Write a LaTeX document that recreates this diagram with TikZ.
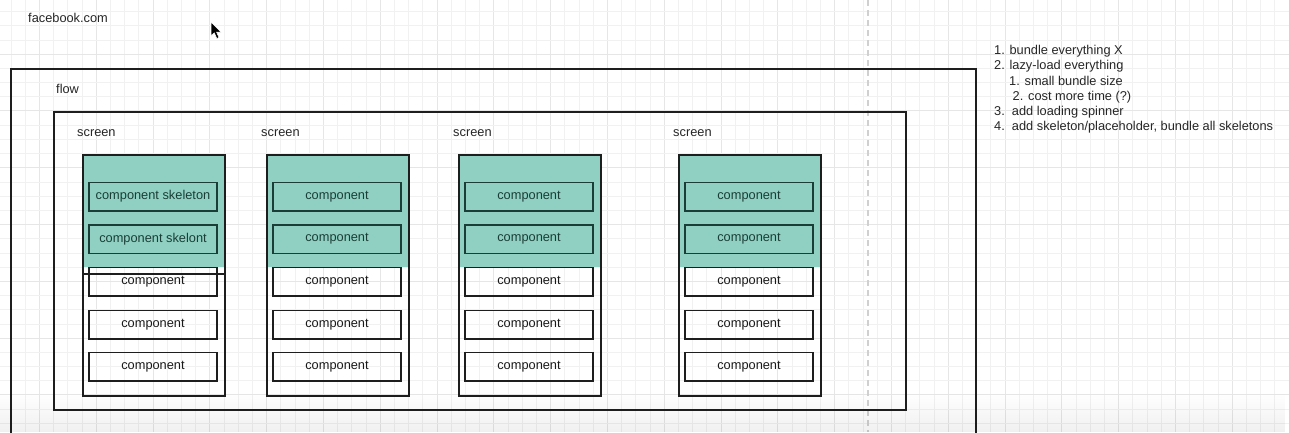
\documentclass[tikz,border=0pt]{standalone}
\usepackage{fontspec}
\setmainfont{Liberation Sans}
\usetikzlibrary{fadings}
\definecolor{gridminor}{RGB}{241,241,241}
\definecolor{gridmajor}{RGB}{230,230,230}
\definecolor{tealfill}{RGB}{144,208,194}
\definecolor{tealdark}{RGB}{26,62,55}
\definecolor{linec}{RGB}{30,30,30}
\definecolor{dashc}{RGB}{208,208,208}
\newcommand{\fsz}{\fontsize{12.8pt}{15pt}\selectfont}
\tikzset{
  lbl/.style={anchor=base west, inner sep=0pt, font=\fsz, text=black!85},
  bigbox/.style={draw=linec, line width=1.7pt},
  screenbox/.style={draw=linec, line width=1.6pt, minimum width=142pt, minimum height=241pt, inner sep=0pt, anchor=north west},
  comp/.style={draw=linec, line width=1.5pt, minimum width=128pt, minimum height=28.5pt, inner sep=0pt, font=\fsz, text=black!90},
  tcomp/.style={comp, draw=tealdark, text=tealdark},
  tealarea/.style={fill=tealfill},
}
\begin{document}
\begin{tikzpicture}[x=1pt,y=-1pt]
\useasboundingbox (0,0) rectangle (1289,432);
\fill[white] (0,0) rectangle (1289,432);
% grid
\foreach \k in {0,...,90} {
  \pgfmathtruncatemacro{\m}{mod(\k,4)}
  \ifnum\m=2
    \draw[gridmajor, line width=0.9pt] ({11+14.2*\k},0) -- ({11+14.2*\k},432);
  \else
    \draw[gridminor, line width=0.7pt] ({11+14.2*\k},0) -- ({11+14.2*\k},432);
  \fi
}
\foreach \k in {0,...,29} {
  \pgfmathtruncatemacro{\m}{mod(\k,4)}
  \ifnum\m=3
    \draw[gridmajor, line width=0.9pt] (0,{11.5+14.2*\k}) -- (1289,{11.5+14.2*\k});
  \else
    \draw[gridminor, line width=0.7pt] (0,{11.5+14.2*\k}) -- (1289,{11.5+14.2*\k});
  \fi
}
% dashed guide
\coordinate (dtop) at (868,0);
\coordinate (dbot) at (868,432);
\draw[dashc, line width=1.1pt, dash pattern=on 6pt off 4pt] (dtop) -- (dbot);

% title
\node[lbl] (site) at (28,22.6) {facebook.com};

% cursor
\fill[black, draw=white, line width=0.5pt] (211,22) -- (211,36) -- (214.3,32.8) -- (216.8,38.5) -- (219,37.5) -- (216.5,32) -- (221,32) -- cycle;

% flow box
\draw[bigbox] (11,440) -- (11,69) -- (976,69) -- (976,440);
\node[lbl] (flowlbl) at (56,93.6) {flow};
% inner box
\node[bigbox, anchor=north west, minimum width=852pt, minimum height=298pt, inner sep=0pt] (inner) at (53,111) {};

% screens
\foreach \sx/\nm in {82/a,266/b,458/c,678/d} {
  \node[lbl] (lbl\nm) at ({\sx-5},136.6) {screen};
  \fill[tealarea] (\sx,154) rectangle ({\sx+142},267);
}
\foreach \sx/\nm in {82/a,266/b,458/c,678/d} {
  \node[screenbox] (scr\nm) at (\sx,154) {};
}
\draw[linec, line width=1.5pt] (82,274) -- (224,274);

% components
\node[tcomp] (a1) at (153,196.5) {component skeleton};
\node[tcomp] (a2) at (153,239) {component skelont};
\foreach \sx/\nm in {266/b,458/c,678/d} {
  \node[tcomp] (\nm1) at ({\sx+71},196.5) {component};
  \node[tcomp] (\nm2) at ({\sx+71},239) {component};
}
\foreach \sx/\nm in {82/a,266/b,458/c,678/d} {
  \node[comp] (\nm3) at ({\sx+71},281.5) {component};
  \node[comp] (\nm4) at ({\sx+71},324.5) {component};
  \node[comp] (\nm5) at ({\sx+71},366.5) {component};
}

% notes
\node[lbl] (n1) at (994,54.6) {1. bundle everything X};
\node[lbl] (n2) at (994,69.8) {2. lazy-load everything};
\node[lbl] (n3) at (1009,85) {1. small bundle size};
\node[lbl] (n4) at (1012.5,100.3) {2. cost more time (?)};
\node[lbl] (n5) at (994,115.5) {3.\ \ add loading spinner};
\node[lbl] (n6) at (994,130.8) {4.\ \ add skeleton/placeholder, bundle all skeletons};

% bottom fade
\fill[black, opacity=0.06, path fading=north] (0,392) rectangle (1289,432);
\end{tikzpicture}
\end{document}
